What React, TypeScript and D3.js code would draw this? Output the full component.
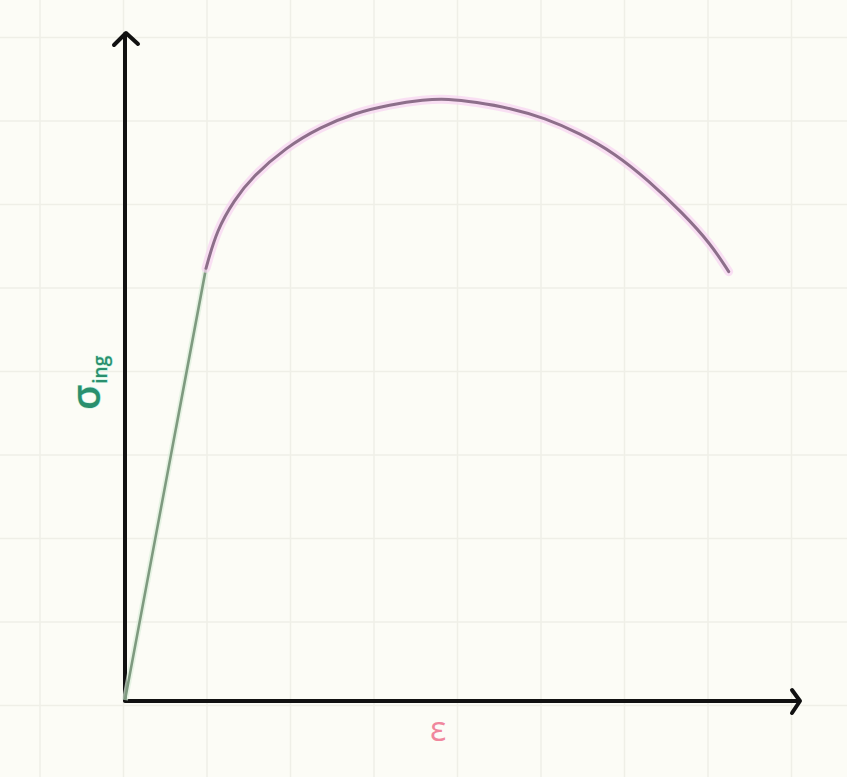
import { useEffect, useRef } from 'react'
import * as d3 from 'd3'

// strain / stress in grid units (1 unit = one grid square)
const ELASTIC_STRAIN = [0, 0.97]
const ELASTIC_STRESS = [0, 5.17]

const PLASTIC_STRAIN = [0.97, 1.1, 1.31, 1.52, 1.93, 2.34, 2.75, 3.17, 3.58, 3.87, 4.2, 4.61, 5.03, 5.44, 5.86, 6.26, 6.68, 7.01, 7.23]
const PLASTIC_STRESS = [5.17, 5.63, 5.99, 6.26, 6.62, 6.86, 7.03, 7.13, 7.19, 7.2, 7.16, 7.09, 6.97, 6.79, 6.55, 6.23, 5.83, 5.47, 5.13]

const GRID_X = [-1, 0, 1, 2, 3, 4, 5, 6, 7, 8, 9]
const GRID_Y = [-1, 0, 1, 2, 3, 4, 5, 6, 7, 8, 9]

const W = 847
const H = 777

export default function App() {
  const svgRef = useRef<SVGSVGElement>(null)

  useEffect(() => {
    document.body.style.margin = '0'
    const svgEl = svgRef.current
    if (!svgEl) return
    const svg = d3.select(svgEl)
    svg.selectAll('*').remove()

    const x = d3.scaleLinear().domain([0, 1]).range([125, 208.5])
    const y = d3.scaleLinear().domain([0, 1]).range([700, 616.5])

    svg.append('rect').attr('width', W).attr('height', H).attr('fill', '#fcfcf6')

    // grid paper, slightly offset from the axes
    svg.append('g').selectAll('line').data(GRID_X).enter().append('line')
      .attr('x1', d => x(d) - 1.5).attr('x2', d => x(d) - 1.5)
      .attr('y1', 0).attr('y2', H)
      .attr('stroke', '#efefe7').attr('stroke-width', 1.5)
    svg.append('g').selectAll('line').data(GRID_Y).enter().append('line')
      .attr('x1', 0).attr('x2', W)
      .attr('y1', d => y(d) + 5.5).attr('y2', d => y(d) + 5.5)
      .attr('stroke', '#efefe7').attr('stroke-width', 1.5)

    const elastic = ELASTIC_STRAIN.map((e, i) => [e, ELASTIC_STRESS[i]] as [number, number])
    const plastic = PLASTIC_STRAIN.map((e, i) => [e, PLASTIC_STRESS[i]] as [number, number])

    const line = d3.line<[number, number]>().x(d => x(d[0])).y(d => y(d[1]))
    const curve = d3.line<[number, number]>().x(d => x(d[0])).y(d => y(d[1]))
      .curve(d3.curveBasis)

    // axes
    const ax = svg.append('g').attr('stroke', '#111').attr('stroke-width', 4)
      .attr('fill', 'none').attr('stroke-linecap', 'round').attr('stroke-linejoin', 'round')
    ax.append('line').attr('x1', x(0)).attr('x2', x(0)).attr('y1', y(0)).attr('y2', 34)
    ax.append('path').attr('d', `M${x(0) - 11},45 L${x(0) + 1},33 L${x(0) + 13},44`)
    ax.append('line').attr('x1', x(0)).attr('x2', 799).attr('y1', y(0) + 1).attr('y2', y(0) + 1)
    ax.append('path').attr('d', `M792,690 L800,701 L792,713`)

    // elastic region
    svg.append('path').attr('d', line(elastic)!)
      .attr('fill', 'none').attr('stroke', '#dcefdc').attr('stroke-width', 6).attr('opacity', 0.7)
    svg.append('path').attr('d', line(elastic)!)
      .attr('fill', 'none').attr('stroke', '#7f9a80').attr('stroke-width', 2.6)

    // plastic region
    svg.append('path').attr('d', curve(plastic)!)
      .attr('fill', 'none').attr('stroke', '#f8d3f2').attr('stroke-width', 9)
      .attr('stroke-linecap', 'round').attr('opacity', 0.7)
    svg.append('path').attr('d', curve(plastic)!)
      .attr('fill', 'none').attr('stroke', '#8d6f8a').attr('stroke-width', 3)
      .attr('stroke-linecap', 'round')

    // labels
    const yl = svg.append('text')
      .attr('transform', 'translate(100,410) rotate(-90)')
      .attr('font-family', 'Open Sans, sans-serif').attr('font-weight', 600)
      .attr('fill', '#2a8f6d')
      .attr('stroke', '#c4f2e0').attr('stroke-width', 1.2).attr('paint-order', 'stroke')
    yl.append('tspan').attr('font-size', 40).text('σ')
    yl.append('tspan').attr('font-size', 19).attr('dx', 1).attr('dy', 7).text('ing')

    svg.append('text')
      .attr('x', 438).attr('y', 741).attr('text-anchor', 'middle')
      .attr('font-family', 'Open Sans, sans-serif').attr('font-size', 34)
      .attr('fill', '#f0879d')
      .text('ε')
  }, [])

  return <svg ref={svgRef} width={W} height={H} style={{ display: 'block' }} />
}
